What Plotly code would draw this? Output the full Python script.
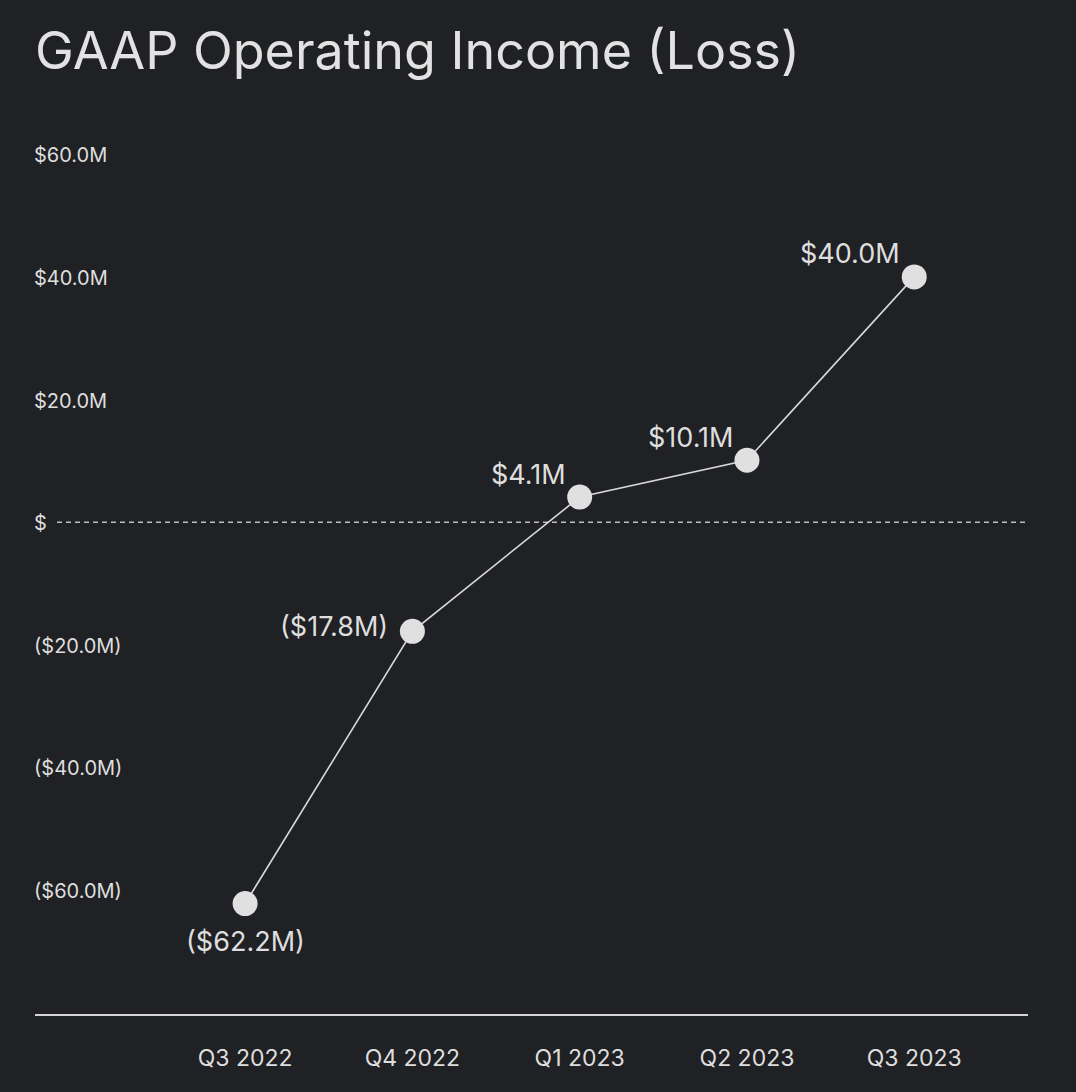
import plotly.graph_objects as go

quarters = ["Q3 2022", "Q4 2022", "Q1 2023", "Q2 2023", "Q3 2023"]
values = [-62.2, -17.8, 4.1, 10.1, 40.0]
point_labels = ["($62.2M)", "($17.8M)", "$4.1M", "$10.1M", "$40.0M"]
label_sides = ["below", "left", "above-left", "above-left", "above-left"]
y_tickvals = [60, 40, 20, 0, -20, -40, -60]
y_ticktext = ["$60.0M", "$40.0M", "$20.0M", "$", "($20.0M)", "($40.0M)", "($60.0M)"]

BG = "#202124"
TXT = "#dedede"
FONT = "Inter, Roboto, sans-serif"

# label placement styles (offsets in px relative to the marker)
PLACE = {
    "below": dict(xanchor="center", yanchor="middle", xshift=0, yshift=-38),
    "left": dict(xanchor="right", yanchor="middle", xshift=-22, yshift=5),
    "above-left": dict(xanchor="right", yanchor="middle", xshift=-12, yshift=23),
}

x_idx = list(range(len(quarters)))

fig = go.Figure()
fig.add_trace(go.Scatter(
    x=x_idx, y=values, mode="lines+markers",
    line=dict(color="#d8d8d8", width=1.6),
    marker=dict(size=25, color="#e0e0e0"),
    cliponaxis=False, hoverinfo="skip",
))

for xi, v, lab, side in zip(x_idx, values, point_labels, label_sides):
    fig.add_annotation(x=xi, y=v, text=lab, showarrow=False,
                       font=dict(size=27, color=TXT, family=FONT), **PLACE[side])

fig.add_shape(type="line", xref="paper", yref="y",
              x0=(57 - 35) / 993, x1=(1025 - 35) / 993, y0=0, y1=0,
              line=dict(color="#bdbdbd", width=1.5, dash="5px,4px"), layer="below")

fig.update_layout(
    width=1076, height=1092,
    paper_bgcolor=BG, plot_bgcolor=BG,
    margin=dict(l=35, r=48, t=142, b=78),
    showlegend=False,
    font=dict(family=FONT, color=TXT),
    title=dict(text="GAAP Operating Income (Loss)", x=0, xref="paper",
               xanchor="left", y=1 - 51 / 1092, yanchor="middle", yref="container",
               font=dict(size=52, color="#e2e2e2", family=FONT)),
)
fig.update_xaxes(
    range=[-1.256, 4.68], tickvals=x_idx, ticktext=quarters,
    showgrid=False, zeroline=False, showline=True, linecolor="#d4d4d4", linewidth=2,
    ticks="", ticklabelstandoff=22, tickfont=dict(size=23, color=TXT, family=FONT),
)
fig.update_yaxes(
    range=[-80.2, 62], tickvals=y_tickvals, ticktext=y_ticktext,
    showgrid=False, zeroline=False, showline=False, ticks="",
    ticklabelposition="inside", ticklabeloverflow="allow",
    ticklabelshift=1, ticklabelstandoff=-4,
    tickfont=dict(size=20, color=TXT, family=FONT),
)

fig.write_html("out.html", config={"displayModeBar": False},
               post_script="document.body.style.margin='0';document.body.style.background='#202124';")
